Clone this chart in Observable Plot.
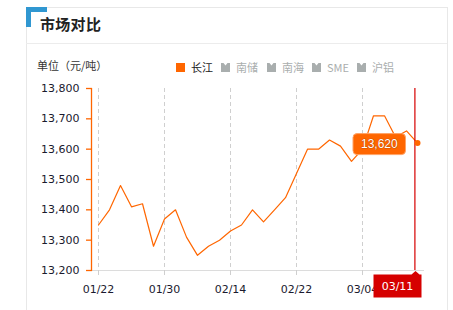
<!DOCTYPE html>
<html>
<head>
<meta charset="utf-8">
<script src="https://cdn.jsdelivr.net/npm/d3@7"></script>
<script src="https://cdn.jsdelivr.net/npm/@observablehq/plot@0.6"></script>
<style>
  html, body { margin: 0; padding: 0; background: #fff; }
  #panel { position: relative; width: 453px; height: 310px; overflow: hidden;
           font-family: "DejaVu Sans", sans-serif; }
  #panel svg.plot { position: absolute; left: 0; top: 0; }
  .frame-top { position: absolute; left: 26px; top: 7px; width: 421px; height: 1px; background: #e8e8e8; }
  .frame-left { position: absolute; left: 26px; top: 7px; width: 1px; height: 303px; background: #e8e8e8; }
  .frame-right { position: absolute; left: 447px; top: 7px; width: 1px; height: 303px; background: #e8e8e8; }
  .title-rule { position: absolute; left: 26px; top: 43px; width: 421px; height: 1px; background: #ececec; }
  .corner-v { position: absolute; left: 26px; top: 7px; width: 5px; height: 20px; background: #3097d1; }
  .corner-h { position: absolute; left: 26px; top: 7px; width: 21px; height: 5px; background: #3097d1; }
  .title { position: absolute; left: 40px; top: 14px; font-family: "Noto Sans CJK SC", sans-serif;
           font-size: 15px; font-weight: bold; color: #222; line-height: 20px; letter-spacing: 0.3px; }
  .unit { position: absolute; left: 37px; top: 58px; font-family: "Noto Sans CJK SC", sans-serif;
          font-size: 11px; color: #333; line-height: 14px; }
  .legend { position: absolute; top: 60px; height: 14px; display: flex; align-items: center;
            font-family: "Noto Sans CJK SC", sans-serif; font-size: 11px; line-height: 14px; }
  .legend svg { margin-right: 6px; }
</style>
</head>
<body>
<div id="panel">
  <div class="frame-top"></div>
  <div class="frame-left"></div>
  <div class="frame-right"></div>
  <div class="title-rule"></div>
  <div class="corner-v"></div>
  <div class="corner-h"></div>
  <div class="title">市场对比</div>
  <div class="unit">单位（元/吨）</div>
</div>
<script>
// Daily aluminium price, 长江 market (元/吨)
const dates = ["01/22","01/23","01/24","01/25","01/28","01/29","01/30","01/31","02/01","02/11",
               "02/12","02/13","02/14","02/15","02/18","02/19","02/20","02/21","02/22","02/25",
               "02/26","02/27","02/28","03/01","03/04","03/05","03/06","03/07","03/08","03/11"];
const prices = [13350,13400,13480,13410,13420,13280,13370,13400,13310,13250,
                13280,13300,13330,13350,13400,13360,13400,13440,13520,13600,
                13600,13630,13610,13560,13600,13710,13710,13640,13660,13620];
const xTicks = ["01/22","01/30","02/14","02/22","03/04"];
const yTicks = [13200,13300,13400,13500,13600,13700,13800];
const legendItems = ["长江","南储","南海","SME","沪铝"];
const activeSeries = "长江";

const rows = dates.map((d, i) => ({date: d, price: prices[i]}));
const last = rows[rows.length - 1];

const orange = "#ff6600";
const red = "#d60000";

// rounded-rectangle value bubble, drawn left of the highlighted point
const bubbleSymbol = {
  draw(ctx) {
    const x0 = -64.5, x1 = -12, y0 = -9.5, y1 = 11.5, r = 4;
    ctx.moveTo(x0 + r, y0);
    ctx.lineTo(x1 - r, y0); ctx.arcTo(x1, y0, x1, y0 + r, r);
    ctx.lineTo(x1, y1 - r); ctx.arcTo(x1, y1, x1 - r, y1, r);
    ctx.lineTo(x0 + r, y1); ctx.arcTo(x0, y1, x0, y1 - r, r);
    ctx.lineTo(x0, y0 + r); ctx.arcTo(x0, y0, x0 + r, y0, r);
    ctx.closePath();
  }
};

// date flag under the crosshair, with a small pointer on top
const flagSymbol = {
  draw(ctx) {
    ctx.moveTo(-42, 4);
    ctx.lineTo(-4, 4); ctx.lineTo(0, 0.5); ctx.lineTo(4, 4);
    ctx.lineTo(6, 4); ctx.lineTo(6, 27); ctx.lineTo(-42, 27);
    ctx.closePath();
  }
};

const chart = Plot.plot({
  width: 453,
  height: 310,
  marginTop: 88,
  marginBottom: 40,
  marginLeft: 91,
  marginRight: 29,
  style: {fontFamily: "DejaVu Sans, sans-serif", fontSize: "11px", background: "transparent"},
  x: {type: "point", domain: dates, range: [97.3, 418.6], padding: 0},
  y: {domain: [13200, 13800]},
  marks: [
    Plot.gridX(xTicks, {stroke: "#cfcfcf", strokeOpacity: 1, strokeDasharray: "4,3"}),
    Plot.ruleY([13200], {stroke: "#dcdcdc"}),
    Plot.frame({anchor: "left", stroke: orange, strokeWidth: 1.3}),
    Plot.axisX(xTicks, {tickSize: 5, tickPadding: 10, stroke: "#cfcfcf", fill: "#1a1a2e", label: null}),
    Plot.axisY(yTicks, {tickSize: 5, tickPadding: 7, stroke: orange, strokeWidth: 1.3, fill: "#1a1a2e",
                        tickFormat: d3.format(","), label: null}),
    Plot.lineY(rows, {x: "date", y: "price", stroke: orange, strokeWidth: 1.2}),
    Plot.ruleX([last], {x: "date", stroke: red, strokeWidth: 1.2, dx: -2.6}),
    Plot.dot([last], {x: "date", y: 13200, symbol: flagSymbol, r: 10, fill: red, stroke: "none", dx: -2}),
    Plot.text([last], {x: "date", y: 13200, text: "date", dx: -20, dy: 15.5, fill: "#fff",
                       fontSize: 11, fontFamily: "DejaVu Sans, sans-serif"}),
    Plot.dot([last], {x: "date", y: "price", r: 3, fill: orange, stroke: "none"}),
    Plot.dot([last], {x: "date", y: "price", symbol: bubbleSymbol, r: 10, fill: orange,
                      stroke: "#ffa366", strokeWidth: 1}),
    Plot.text([last], {x: "date", y: "price", text: d => d3.format(",")(d.price), dx: -38.2, dy: 1.5,
                       fill: "#fff", fontSize: 12, fontFamily: "Liberation Sans, Arial, sans-serif",
                       stroke: "rgba(120,40,0,0.35)", strokeWidth: 1.2, paintOrder: "stroke"})
  ]
});
chart.classList.add("plot");
const panel = document.getElementById("panel");
panel.insertBefore(chart, panel.firstChild);

// legend: active series as a filled square, the others as muted icons
const legendX = [176, 221, 267, 312, 357];
legendItems.forEach((name, i) => {
  const on = name === activeSeries;
  const item = document.createElement("div");
  item.className = "legend";
  item.style.left = legendX[i] + "px";
  item.style.color = on ? "#222" : "#aaaeae";
  const icon = on
    ? `<svg width="9" height="9"><rect width="9" height="9" fill="${orange}"/></svg>`
    : `<svg width="9" height="9"><path d="M0,0H2.5L4.5,2.5L6.5,0H9V9H0Z" fill="#a9aeae"/></svg>`;
  item.innerHTML = icon + `<span>${name}</span>`;
  panel.appendChild(item);
});
</script>
</body>
</html>
